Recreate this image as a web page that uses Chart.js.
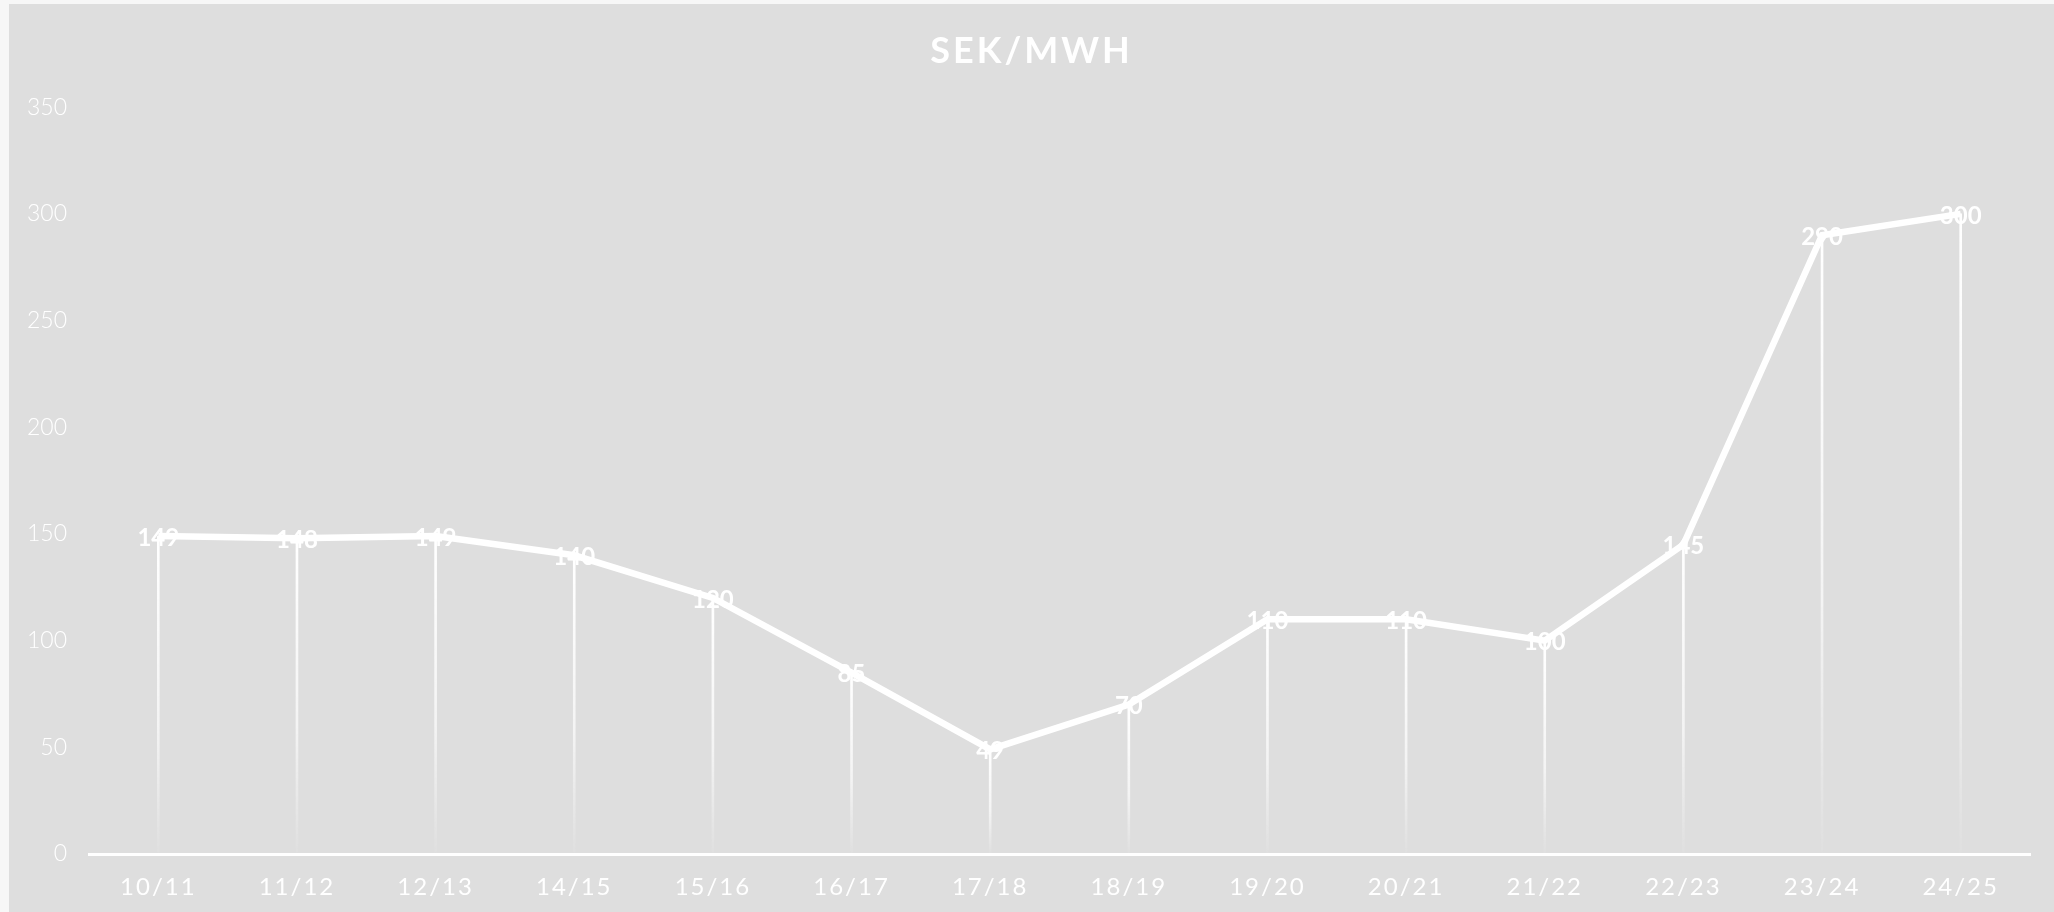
<!DOCTYPE html>
<html>
<head>
<meta charset="utf-8">
<script src="https://cdn.jsdelivr.net/npm/chart.js@4/dist/chart.umd.min.js"></script>
<style>
  html, body { margin: 0; padding: 0; background: #f7f7f7; width: 2054px; height: 912px; overflow: hidden; }
  #box { position: absolute; left: 9px; top: 4px; width: 2045px; height: 908px; background: #dedede; }
</style>
</head>
<body>
<div id="box"><canvas id="c"></canvas></div>
<script>
const categories = ['10/11','11/12','12/13','14/15','15/16','16/17','17/18','18/19','19/20','20/21','21/22','22/23','23/24','24/25'];
const prices = [149, 148, 149, 140, 120, 85, 49, 70, 110, 110, 100, 145, 290, 300];
const yTicks = [0, 50, 100, 150, 200, 250, 300, 350];
const titleText = 'SEK/MWH';

const spacingPlugin = {
  id: 'spacing',
  beforeDraw(chart) {
    const tb = chart.titleBlock;
    if (tb && !tb._sp) {
      const o = tb.draw;
      tb.draw = function (...a) { this.ctx.save(); this.ctx.letterSpacing = '3px'; o.apply(this, a); this.ctx.restore(); };
      tb._sp = true;
    }
    const xs = chart.scales.x;
    if (xs && !xs._sp) {
      const o = xs.drawLabels;
      xs.drawLabels = function (...a) { this.ctx.save(); this.ctx.letterSpacing = '2px'; o.apply(this, a); this.ctx.restore(); };
      xs._sp = true;
    }
  }
};

const valueLabels = {
  id: 'valueLabels',
  afterDatasetsDraw(chart) {
    const meta = chart.getDatasetMeta(0);
    const ctx = chart.ctx;
    ctx.save();
    ctx.font = 'bold 24px Lato, "DejaVu Sans", sans-serif';
    ctx.fillStyle = '#ffffff';
    ctx.textAlign = 'center';
    ctx.textBaseline = 'middle';
    meta.data.forEach((pt, i) => {
      ctx.fillText(String(prices[i]), pt.x, pt.y + 2);
    });
    ctx.restore();
  }
};

function dropGradient(c) {
  const chart = c.chart;
  if (!chart.chartArea || c.type !== 'data') return 'rgba(255,255,255,0.9)';
  const ys = chart.scales.y;
  const top = ys.getPixelForValue(c.raw);
  const bot = ys.getPixelForValue(0);
  if (!isFinite(top) || !isFinite(bot) || bot - top < 1) return 'rgba(255,255,255,0.9)';
  const g = chart.ctx.createLinearGradient(0, top, 0, bot);
  g.addColorStop(0, 'rgba(255,255,255,1)');
  g.addColorStop(0.6, 'rgba(255,255,255,0.65)');
  g.addColorStop(1, 'rgba(255,255,255,0.05)');
  return g;
}

new Chart(document.getElementById('c'), {
  type: 'line',
  data: {
    labels: categories,
    datasets: [
      {
        type: 'line',
        data: prices,
        borderColor: '#ffffff',
        borderWidth: 6.5,
        pointRadius: 0,
        tension: 0,
        fill: false,
        order: 0
      },
      {
        type: 'bar',
        data: prices,
        backgroundColor: dropGradient,
        borderWidth: 0,
        barThickness: 2,
        order: 1
      }
    ]
  },
  options: {
    responsive: true,
    maintainAspectRatio: false,
    animation: false,
    layout: { padding: 0 },
    plugins: {
      legend: { display: false },
      tooltip: { enabled: false },
      title: {
        display: true,
        text: titleText,
        color: '#ffffff',
        font: { family: 'Lato, "DejaVu Sans", sans-serif', size: 36, weight: 'bold' },
        padding: { top: 26, bottom: 34 }
      }
    },
    scales: {
      x: {
        offset: true,
        grid: { display: false, drawTicks: false },
        border: { display: true, color: '#ffffff', width: 3 },
        ticks: {
          color: '#ffffff',
          font: { family: 'Lato, "DejaVu Sans", sans-serif', size: 24, weight: 400 },
          padding: 19,
          maxRotation: 0,
          autoSkip: false
        },
        afterFit(s) { s.height = 58; }
      },
      y: {
        min: 0,
        max: 350,
        grid: { display: false, drawTicks: false },
        border: { display: false },
        afterBuildTicks(s) { s.ticks = yTicks.map(v => ({ value: v })); },
        ticks: {
          color: '#ffffff',
          font: { family: 'Lato, "DejaVu Sans", sans-serif', size: 23, weight: 300 },
          padding: 22
        },
        afterFit(s) { s.width = 80; }
      },
      yRight: {
        position: 'right',
        display: true,
        grid: { display: false, drawTicks: false },
        border: { display: false },
        ticks: { display: false },
        afterFit(s) { s.width = 24; }
      }
    }
  },
  plugins: [spacingPlugin, valueLabels]
});
</script>
</body>
</html>
